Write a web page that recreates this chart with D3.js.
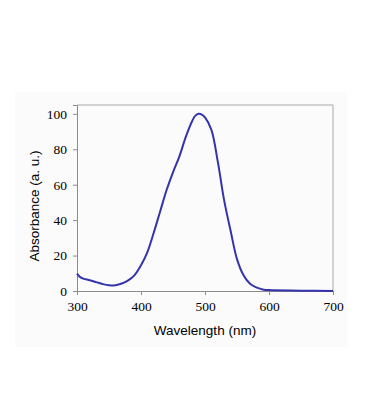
<!doctype html>
<html lang="en">
<head>
    <meta charset="utf-8">
    <title>Absorbance spectrum</title>
    <script src="https://cdnjs.cloudflare.com/ajax/libs/d3/7.8.5/d3.min.js" type="text/JavaScript"></script>
    <style>
        body { margin: 0; background: #fff; }
    </style>
</head>
<body>
<script>

    // spectrum
    const wavelength = [300, 305, 310, 320, 330, 340, 350, 360, 370, 380, 390, 400, 410, 420, 430, 440,
        450, 460, 470, 480, 485, 490, 495, 500, 510, 520, 530, 540, 550, 560, 570, 580, 590, 600, 650, 700];
    const absorbance = [9.8, 7.8, 7.0, 6.1, 5.0, 3.9, 3.2, 3.3, 4.2, 6.0, 9.0, 14.5, 22, 33, 45, 57,
        67, 76, 87, 96, 99, 100, 99.6, 98, 91, 73, 51, 34, 18, 9, 4.2, 2, 0.9, 0.5, 0.2, 0];
    const xTicks = [300, 400, 500, 600, 700];
    const yTicks = [0, 20, 40, 60, 80, 100];

    const width = 369, height = 420;
    const plotLeft = 77, plotRight = 333, plotTop = 105, plotBottom = 291;

    const svg = d3.select("body").append("svg")
        .attr("width", width)
        .attr("height", height);

    // light panel behind chart
    svg.append("rect")
        .attr("x", 15).attr("y", 92)
        .attr("width", 332).attr("height", 255)
        .attr("fill", "#fbfbfb");

    const x = d3.scaleLinear().domain([300, 700]).range([plotLeft, plotRight]);
    const y = d3.scaleLinear().domain([0, 105]).range([plotBottom, plotTop]);

    // frame (top + right)
    svg.append("path")
        .attr("d", `M${plotLeft},${plotTop}H${plotRight}V${plotBottom}`)
        .attr("fill", "none")
        .attr("stroke", "#a8a8a8")
        .attr("stroke-width", 1);

    const xAxis = svg.append("g")
        .attr("transform", `translate(0,${plotBottom})`)
        .call(d3.axisBottom(x).tickValues(xTicks).tickSize(4).tickPadding(6));

    const yAxis = svg.append("g")
        .attr("transform", `translate(${plotLeft},0)`)
        .call(d3.axisLeft(y).tickValues(yTicks).tickSize(4).tickPadding(6));

    [xAxis, yAxis].forEach(g => {
        g.select(".domain").attr("stroke", "#8c8c8c");
        g.selectAll(".tick line").attr("stroke", "#8c8c8c");
        g.selectAll(".tick text")
            .attr("fill", "#000")
            .attr("font-family", "'Liberation Serif', 'DejaVu Serif', serif")
            .attr("font-size", 13.5);
    });

    const line = d3.line()
        .x((d, i) => x(wavelength[i]))
        .y(d => y(d))
        .curve(d3.curveCatmullRom.alpha(0.5));

    svg.append("path")
        .datum(absorbance)
        .attr("d", line)
        .attr("fill", "none")
        .attr("stroke", "#3434ad")
        .attr("stroke-width", 2);

    svg.append("text")
        .attr("x", (plotLeft + plotRight) / 2)
        .attr("y", 335)
        .attr("text-anchor", "middle")
        .attr("font-family", "'Liberation Sans', Arial, sans-serif")
        .attr("font-size", 13.5)
        .attr("fill", "#000")
        .text("Wavelength (nm)");

    svg.append("text")
        .attr("transform", `translate(38.5,${(plotTop + plotBottom) / 2 + 8}) rotate(-90)`)
        .attr("text-anchor", "middle")
        .attr("font-family", "'Liberation Sans', Arial, sans-serif")
        .attr("font-size", 13.5)
        .attr("fill", "#000")
        .text("Absorbance (a. u.)");

</script>
</body>
</html>
